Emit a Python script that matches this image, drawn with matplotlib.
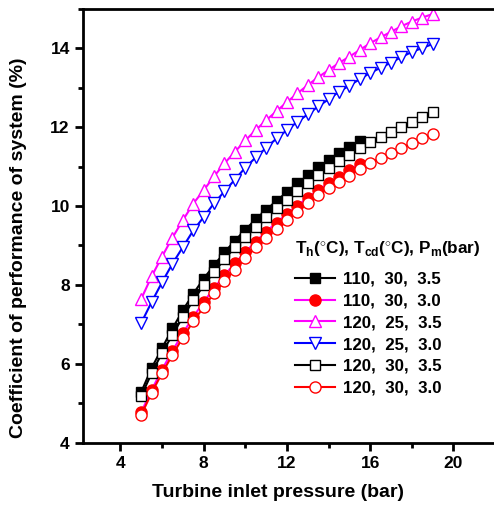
import matplotlib
matplotlib.use('Agg')
import matplotlib.pyplot as plt
from matplotlib.ticker import MultipleLocator

plt.rcParams['font.family'] = ['Liberation Sans', 'DejaVu Sans']
plt.rcParams['font.weight'] = 'bold'
plt.rcParams['mathtext.fontset'] = 'custom'
plt.rcParams['mathtext.rm'] = 'Liberation Sans:bold'
plt.rcParams['mathtext.bf'] = 'Liberation Sans:bold'

# Turbine inlet pressure (bar)
x_110 = [5, 5.5, 6, 6.5, 7, 7.5, 8, 8.5, 9, 9.5, 10, 10.5, 11, 11.5, 12,
         12.5, 13, 13.5, 14, 14.5, 15, 15.5]
x_120 = [5, 5.5, 6, 6.5, 7, 7.5, 8, 8.5, 9, 9.5, 10, 10.5, 11, 11.5, 12,
         12.5, 13, 13.5, 14, 14.5, 15, 15.5, 16, 16.5, 17, 17.5, 18, 18.5, 19]

# COP (%) for each case: Th, Tcd, Pm
cop_110_30_35 = [5.29, 5.9, 6.4, 6.9, 7.36, 7.78, 8.16, 8.5, 8.83, 9.12, 9.4,
                 9.66, 9.9, 10.13, 10.35, 10.57, 10.78, 10.98, 11.16, 11.34,
                 11.5, 11.65]
cop_110_30_30 = [4.78, 5.34, 5.86, 6.33, 6.78, 7.19, 7.57, 7.92, 8.25, 8.55,
                 8.83, 9.1, 9.35, 9.58, 9.8, 10.01, 10.21, 10.4, 10.58, 10.74,
                 10.91, 11.06]
cop_120_25_35 = [7.65, 8.22, 8.72, 9.2, 9.64, 10.06, 10.4, 10.75, 11.08, 11.37,
                 11.66, 11.92, 12.17, 12.4, 12.63, 12.85, 13.06, 13.26, 13.44,
                 13.62, 13.78, 13.95, 14.12, 14.27, 14.41, 14.55, 14.67, 14.77,
                 14.86]
cop_120_25_30 = [7.04, 7.57, 8.07, 8.54, 8.96, 9.38, 9.72, 10.07, 10.37, 10.67,
                 10.97, 11.23, 11.47, 11.71, 11.92, 12.13, 12.32, 12.52, 12.7,
                 12.89, 13.05, 13.21, 13.37, 13.5, 13.63, 13.77, 13.9, 14.0,
                 14.1]
cop_120_30_35 = [5.19, 5.77, 6.28, 6.74, 7.19, 7.61, 7.99, 8.33, 8.65, 8.95,
                 9.22, 9.48, 9.72, 9.95, 10.16, 10.37, 10.58, 10.78, 10.97,
                 11.13, 11.3, 11.47, 11.61, 11.75, 11.88, 12.01, 12.13, 12.26,
                 12.38]
cop_120_30_30 = [4.71, 5.27, 5.77, 6.23, 6.67, 7.08, 7.44, 7.79, 8.1, 8.39,
                 8.68, 8.95, 9.2, 9.43, 9.65, 9.86, 10.07, 10.27, 10.46, 10.61,
                 10.75, 10.94, 11.09, 11.22, 11.34, 11.47, 11.59, 11.72, 11.82]

labels = ['110,  30,  3.5', '110,  30,  3.0', '120,  25,  3.5',
          '120,  25,  3.0', '120,  30,  3.5', '120,  30,  3.0']

fig = plt.figure(figsize=(4.94, 5.16), dpi=100)
ax = fig.add_axes([0.168, 0.1415, 0.834, 0.842])

lw = 1.5
ax.plot(x_110, cop_110_30_35, color='black', lw=lw, marker='s', ms=7.5,
        mfc='black', mec='black', label=labels[0])
ax.plot(x_110, cop_110_30_30, color='#FF00FF', lw=lw, marker='o', ms=8,
        mfc='red', mec='red', label=labels[1])
ax.plot(x_120, cop_120_25_35, color='#FF00FF', lw=lw, marker='^', ms=8.5,
        mfc='white', mec='#FF00FF', mew=1, label=labels[2])
ax.plot(x_120, cop_120_25_30, color='blue', lw=lw, marker='v', ms=8.5,
        mfc='white', mec='blue', mew=1, label=labels[3])
ax.plot(x_120, cop_120_30_35, color='black', lw=lw, marker='s', ms=7.5,
        mfc='white', mec='black', mew=1, label=labels[4])
ax.plot(x_120, cop_120_30_30, color='red', lw=lw, marker='o', ms=8,
        mfc='white', mec='red', mew=1, label=labels[5])

ax.set_xlim(2.2, 22)
ax.set_ylim(4, 15)
ax.xaxis.set_major_locator(MultipleLocator(4))
ax.xaxis.set_minor_locator(MultipleLocator(2))
ax.yaxis.set_major_locator(MultipleLocator(2))
ax.yaxis.set_minor_locator(MultipleLocator(1))
ax.tick_params(which='major', direction='out', length=6, width=2, labelsize=12.5)
ax.tick_params(which='minor', direction='out', length=3.5, width=2)
for side in ['left', 'bottom', 'top']:
    ax.spines[side].set_linewidth(2)
ax.spines['right'].set_visible(False)

ax.set_xlabel('Turbine inlet pressure (bar)', fontsize=14, fontweight='bold')
ax.set_ylabel('Coefficient of performance of system (%)', fontsize=14,
              fontweight='bold')
ax.xaxis.set_label_coords(0.473, -0.095)
ax.yaxis.set_label_coords(-0.135, 0.449)

leg = ax.legend(title=r'T$_{\mathbf{h}}$($^{\circ}$C), T$_{\mathbf{cd}}$($^{\circ}$C), P$_{\mathbf{m}}$(bar)',
                loc='upper left', bbox_to_anchor=(295 / 494, (516 - 239) / 516),
                bbox_transform=fig.transFigure, frameon=False, numpoints=1,
                fontsize=12.2, title_fontsize=12.3, handlelength=2.35,
                handletextpad=0.5, borderpad=0, borderaxespad=0,
                labelspacing=0.4, alignment='left')
# extra gap between the legend title and the entries
leg._legend_box.sep = 9.5

plt.savefig('out.png', dpi=100)
